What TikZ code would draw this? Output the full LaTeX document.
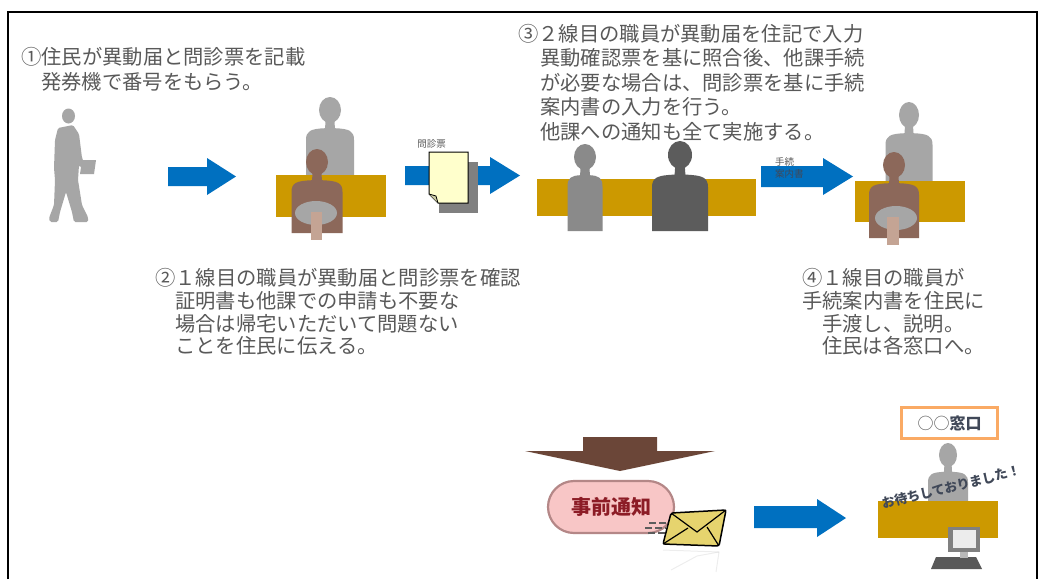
\documentclass[tikz,border=0pt]{standalone}
\usepackage{fontspec}
\setmainfont{Noto Sans CJK JP}

\definecolor{txt}{RGB}{89,89,89}
\definecolor{arrowblue}{RGB}{0,112,192}
\definecolor{desk}{RGB}{204,153,0}
\definecolor{clerk}{RGB}{140,104,90}
\definecolor{stoolleg}{RGB}{196,164,148}
\definecolor{silver}{RGB}{166,166,166}
\definecolor{midgray}{RGB}{138,138,138}
\definecolor{deepgray}{RGB}{92,92,92}
\definecolor{notebrown}{RGB}{107,70,56}
\definecolor{pinkfill}{RGB}{248,198,198}
\definecolor{pinkedge}{RGB}{180,135,135}
\definecolor{notered}{RGB}{140,28,38}
\definecolor{envyellow}{RGB}{230,212,110}
\definecolor{orangeedge}{RGB}{250,170,100}
\definecolor{slate}{RGB}{64,72,88}
\definecolor{paper}{RGB}{255,255,204}
\definecolor{docshadow}{RGB}{128,128,128}

% upper body silhouette: head centre (#1,#2), head radii #3,#4,
% half width of the body #5, bottom of the body below the head centre #6, colour #7
\newcommand{\drawbust}[7]{%
  \begin{scope}[shift={(#1,#2)}]
    \fill[#7] (0,0) ellipse [x radius=#3pt, y radius=#4pt];
    \fill[#7] (-0.4*#3,0.8*#4) -- (-0.45*#3,1.4*#4)
      .. controls (-0.8*#5,1.45*#4) and (-#5,1.6*#4) .. (-#5,2.3*#4)
      -- (-#5,#6) -- (#5,#6) -- (#5,2.3*#4)
      .. controls (#5,1.6*#4) and (0.8*#5,1.45*#4) .. (0.45*#3,1.4*#4)
      -- (0.4*#3,0.8*#4) -- cycle;
  \end{scope}}

\tikzset{
  steptext/.style={anchor=base west, inner sep=0pt, text=txt,
    font=\fontsize{20.3pt}{24pt}\selectfont},
  smalltext/.style={inner sep=0pt, text=txt, font=\fontsize{9.5pt}{11pt}\selectfont},
  blockarrow/.style={fill=arrowblue},
  deskbox/.style={fill=desk},
}

\begin{document}
\begin{tikzpicture}[x=1pt,y=-1pt]
\useasboundingbox (0,0) rectangle (1043,579);
\fill[white] (0,0) rectangle (1043,579);

% outer frame, open at the bottom
\draw[line width=2pt] (7.5,579) -- (7.5,11.5) -- (1036.5,11.5) -- (1036.5,579);

% ---------- step texts ----------
\node[steptext] (s1a) at (21,64) {①住民が異動届と問診票を記載};
\node[steptext] (s1b) at (41,89) {発券機で番号をもらう。};

\node[steptext] (s3a) at (518,41) {③２線目の職員が異動届を住記で入力};
\node[steptext] (s3b) at (540,65.5) {異動確認票を基に照合後、他課手続};
\node[steptext] (s3c) at (540,90) {が必要な場合は、問診票を基に手続};
\node[steptext] (s3d) at (540,114.5) {案内書の入力を行う。};
\node[steptext] (s3e) at (540,139) {他課への通知も全て実施する。};

\node[steptext] (s2a) at (155,285) {②１線目の職員が異動届と問診票を確認};
\node[steptext] (s2b) at (175,308) {証明書も他課での申請も不要な};
\node[steptext] (s2c) at (175,331) {場合は帰宅いただいて問題ない};
\node[steptext] (s2d) at (175,353) {ことを住民に伝える。};

\node[steptext] (s4a) at (802,285) {④１線目の職員が};
\node[steptext] (s4b) at (802,308) {手続案内書を住民に};
\node[steptext] (s4c) at (822,331) {手渡し、説明。};
\node[steptext] (s4d) at (822,353) {住民は各窓口へ。};

% ---------- resident walking in ----------
\fill[silver] (68.5,116) ellipse [x radius=6.5pt, y radius=7.5pt];
\fill[silver, rounded corners=1.5pt] (58,128) -- (73,125) -- (79,134) -- (82,158)
  -- (86,166) -- (84,170) -- (79,165) -- (78,180) -- (82,205) -- (88,217)
  -- (88,222) -- (74,222) -- (72,212) -- (66,192) -- (60,212) -- (58,222)
  -- (50,222) -- (49,218) -- (54,205) -- (55,180) -- (54,168) -- (55,140) -- cycle;
\fill[silver] (82,160) -- (96,160) -- (94,174) -- (80,174) -- cycle;

% ---------- arrow 1 ----------
\fill[blockarrow] (168,167) -- (207,167) -- (207,158) -- (236,176.5)
  -- (207,195) -- (207,186) -- (168,186) -- cycle;

% ---------- first-line counter ----------
\drawbust{330}{110}{11}{13}{24}{66}{silver}
\fill[deskbox] (276,175) rectangle (386,217);
\drawbust{317}{162}{11}{13}{25.5}{71}{clerk}
\fill[silver] (316,213) ellipse [x radius=21pt, y radius=12pt];
\fill[stoolleg] (311,212) rectangle (322,240);

% ---------- arrow 2 with the questionnaire ----------
\fill[blockarrow] (405,166) -- (490,166) -- (490,157) -- (520,175.5)
  -- (490,194) -- (490,185) -- (405,185) -- cycle;
\fill[docshadow] (439,162) rectangle (478,213);
\draw[fill=paper, line width=1pt] (429,152) -- (468,152) -- (468,203)
  -- (438,203) -- (429,194) -- cycle;
\draw[fill=paper!80!black, line width=0.8pt] (429,194) -- (436,196) -- (438,203);
\node[smalltext] (qlabel) at (431.5,144) {問診票};

% ---------- second-line counter ----------
\fill[deskbox] (537,179) rectangle (756,216);
\drawbust{585}{157}{11}{13}{17.5}{74}{midgray}
\drawbust{680}{155}{12}{14}{28}{76}{deepgray}

% ---------- arrow 3 with the guide ----------
\fill[blockarrow] (761,166) -- (823,166) -- (823,158) -- (853,176.5)
  -- (823,195) -- (823,187) -- (761,187) -- cycle;
\node[smalltext, anchor=west] (glabel1) at (775,162) {手続};
\node[smalltext, anchor=west, text=slate] (glabel2) at (775,174) {案内書};

% ---------- first-line counter, hand-over ----------
\drawbust{909}{115}{10}{13}{23.5}{67}{silver}
\fill[deskbox] (855,181) rectangle (965,222);
\drawbust{894}{165}{11}{13}{25}{73}{clerk}
\fill[silver] (896,218) ellipse [x radius=21pt, y radius=12pt];
\fill[stoolleg] (887,217) rectangle (899,245);

% ---------- advance notice ----------
\fill[notebrown] (583,437) -- (657,437) -- (657,451) -- (715,451)
  -- (620,471) -- (525,451) -- (583,451) -- cycle;
\node[draw=pinkedge, line width=2.2pt, fill=pinkfill, rounded corners=26pt,
  minimum width=126pt, minimum height=52pt, inner sep=0pt, text=notered,
  font=\bfseries\fontsize{20pt}{22pt}\selectfont] (notice) at (611,507) {事前通知};

% speed lines and envelope
\foreach \yy/\xs in {523/649,528/645,533/648}
  \draw[deepgray, line width=1.4pt, dash pattern=on 7pt off 3pt] (\xs,\yy) -- (666,\yy);
\begin{scope}[opacity=0.07]
  \draw[line width=1pt] (663,550) -- (719,552) -- (716,572);
  \draw[line width=1pt] (671,570) -- (697,556) -- (719,552);
\end{scope}
\draw[fill=envyellow, line width=1.5pt, rounded corners=2pt]
  (671,513) -- (726,510) -- (719,546) -- (663,544) -- cycle;
\draw[line width=1.2pt] (671,513) -- (697,532) -- (726,510);
\draw[line width=1.2pt] (663,544) -- (688,528);
\draw[line width=1.2pt] (719,546) -- (707,527);

% ---------- arrow 4 ----------
\fill[blockarrow] (754,506) -- (817,506) -- (817,499) -- (846,518)
  -- (817,537) -- (817,528) -- (754,528) -- cycle;

% ---------- service window ----------
\node[draw=orangeedge, line width=3pt, minimum width=96pt, minimum height=31pt,
  inner sep=0pt, text=slate, font=\fontsize{16pt}{18pt}\selectfont]
  (window) at (949.5,423) {{\color{txt}○○}\textbf{窓口}};
\drawbust{948}{455}{9}{12}{20}{46}{silver}
\fill[deskbox] (878,501) rectangle (998,538);
\fill[gray!70!black] (936,557) -- (976,557) -- (982,569) -- (931,569) -- cycle;
\fill[gray!55] (960,550) rectangle (968,558);
\fill[gray] (948,527) rectangle (980,552);
\fill[gray!15] (953,530) rectangle (976,548);
\node[rotate=14, inner sep=0pt, text=slate, font=\bfseries\fontsize{13pt}{15pt}\selectfont]
  (welcome) at (951,487) {お待ちしておりました！};
\end{tikzpicture}
\end{document}
